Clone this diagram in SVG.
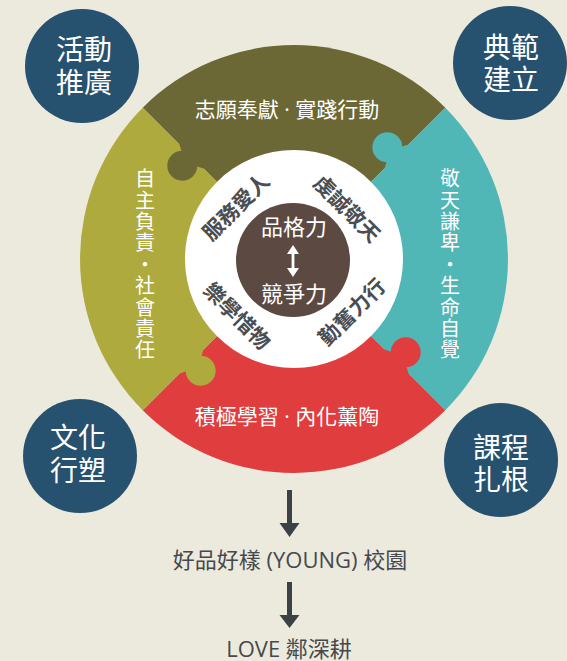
<svg xmlns="http://www.w3.org/2000/svg" width="567" height="661" viewBox="0 0 567 661">
<style>
text{font-family:"Noto Sans CJK TC","Noto Sans CJK SC",sans-serif}
.badge{fill:#26516f}
.bt{font-size:28px;fill:#fff;text-anchor:middle}
.seg{font-size:21px;fill:#fff;text-anchor:middle}
.vert{font-size:20px;fill:#fff;text-anchor:middle}
.dot{font-family:"Open Sans",sans-serif}
.inner{font-size:21px;fill:#4a4d52;text-anchor:middle;font-weight:bold}
.core{font-size:22px;fill:#fff;text-anchor:middle}
.bottom{font-size:22px;fill:#45494e;text-anchor:middle;font-family:"Open Sans","Noto Sans CJK TC",sans-serif}
.arrow{fill:#3c4146}
</style>
<defs>
<path id="knob" d="M128,1 L128,0 L133.8,-3 A15 15 0 1 1 156.2,-3 L162,0 L162,1 Z"/>
</defs>
<rect width="567" height="661" fill="#eceadd"/>

<g id="ring" transform="translate(294,259)">
  <g id="seg-top">
    <path d="M0,0 L-151.3,-151.3 A214 214 0 0 1 151.3,-151.3 Z" fill="#6b6836"/>
  </g>
  <g id="seg-right">
    <path d="M0,0 L151.3,-151.3 A214 214 0 0 1 151.3,151.3 Z" fill="#50b6b6"/>
  </g>
  <g id="seg-bottom">
    <path d="M0,0 L151.3,151.3 A214 214 0 0 1 -151.3,151.3 Z" fill="#e03d3e"/>
  </g>
  <g id="seg-left">
    <path d="M0,0 L-151.3,151.3 A214 214 0 0 1 -151.3,-151.3 Z" fill="#aeaa3e"/>
  </g>
  <use href="#knob" transform="rotate(225)" fill="#6b6836"/>
  <use href="#knob" transform="rotate(315)" fill="#50b6b6"/>
  <use href="#knob" transform="rotate(135)" fill="#aeaa3e"/>
  <use href="#knob" transform="rotate(45)" fill="#e03d3e"/>
  <circle cx="0" cy="0" r="109" fill="#fff"/>
  <circle cx="-1" cy="1" r="57" fill="#5c4a42"/>
</g>

<g id="seg-texts">
  <text class="seg" x="287" y="117">志願奉獻<tspan class="dot"> · </tspan>實踐行動</text>
  <text class="seg" x="287" y="424">積極學習<tspan class="dot"> · </tspan>內化薰陶</text>
  <text class="vert">
    <tspan x="145" y="186.2">自</tspan><tspan x="145" y="207.6">主</tspan><tspan x="145" y="229">負</tspan><tspan x="145" y="250.4">責</tspan><tspan x="145" y="271.8">·</tspan><tspan x="145" y="293.2">社</tspan><tspan x="145" y="314.6">會</tspan><tspan x="145" y="336">責</tspan><tspan x="145" y="357.4">任</tspan>
  </text>
  <text class="vert">
    <tspan x="450" y="186.2">敬</tspan><tspan x="450" y="207.6">天</tspan><tspan x="450" y="229">謙</tspan><tspan x="450" y="250.4">卑</tspan><tspan x="450" y="271.8">·</tspan><tspan x="450" y="293.2">生</tspan><tspan x="450" y="314.6">命</tspan><tspan x="450" y="336">自</tspan><tspan x="450" y="357.4">覺</tspan>
  </text>
</g>

<g id="inner-texts">
  <text class="inner" transform="translate(236,207) rotate(-45)" y="7.5">服務愛人</text>
  <text class="inner" transform="translate(347,209) rotate(45)" y="7.5">虔誠敬天</text>
  <text class="inner" transform="translate(237,316) rotate(45)" y="7.5">樂學惜物</text>
  <text class="inner" transform="translate(352,312) rotate(-45)" y="7.5">勤奮力行</text>
</g>

<g id="core">
  <text class="core" x="294" y="235">品格力</text>
  <text class="core" x="294" y="302">競爭力</text>
  <path d="M293,245 L299,254 L294.4,254 L294.4,268 L299,268 L293,277 L287,268 L291.6,268 L291.6,254 L287,254 Z" fill="#fff"/>
</g>

<g id="badge-activity">
  <circle class="badge" cx="82" cy="66" r="57"/>
  <text class="bt" x="84" y="59.5">活動</text>
  <text class="bt" x="84" y="93">推廣</text>
</g>
<g id="badge-model">
  <circle class="badge" cx="510" cy="63" r="57"/>
  <text class="bt" x="511" y="58">典範</text>
  <text class="bt" x="511" y="89.5">建立</text>
</g>
<g id="badge-culture">
  <circle class="badge" cx="80" cy="456" r="57"/>
  <text class="bt" x="78" y="448">文化</text>
  <text class="bt" x="78" y="481">行塑</text>
</g>
<g id="badge-course">
  <circle class="badge" cx="501" cy="460" r="57"/>
  <text class="bt" x="501" y="458">課程</text>
  <text class="bt" x="501" y="489.5">扎根</text>
</g>

<g id="connectors">
  <rect class="arrow" x="287" y="490" width="5" height="34"/>
  <polygon class="arrow" points="279.5,523 299.5,523 289.5,537"/>
  <rect class="arrow" x="287" y="582" width="5" height="34"/>
  <polygon class="arrow" points="279.5,615 299.5,615 289.5,628"/>
</g>

<g id="outcome-young">
  <text class="bottom" x="290" y="568">好品好樣 (YOUNG) 校園</text>
</g>
<g id="outcome-love">
  <text class="bottom" x="289" y="657">LOVE 鄰深耕</text>
</g>
</svg>
